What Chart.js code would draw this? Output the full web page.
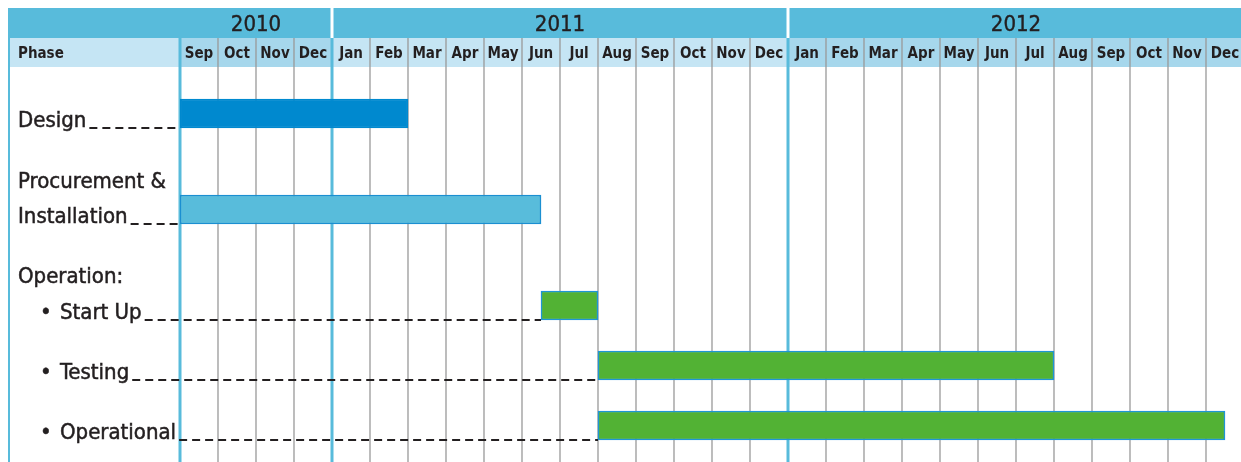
<!DOCTYPE html>
<html>
<head>
<meta charset="utf-8">
<title>Project Schedule</title>
<script src="https://cdn.jsdelivr.net/npm/chart.js@4/dist/chart.umd.min.js"></script>
<style>
  html, body { margin: 0; padding: 0; background: #fff; overflow: hidden; }
  #wrap { width: 1241px; height: 462px; overflow: hidden; }
</style>
</head>
<body>
<div id="wrap"><canvas id="gantt" width="1244" height="462"></canvas></div>
<script>
// Timeline: Sep 2010 .. Dec 2012
const years = ['2010', '2011', '2012'];
const monthsPerYear = [4, 12, 12];
const months = ['Sep', 'Oct', 'Nov', 'Dec',
    'Jan', 'Feb', 'Mar', 'Apr', 'May', 'Jun', 'Jul', 'Aug', 'Sep', 'Oct', 'Nov', 'Dec',
    'Jan', 'Feb', 'Mar', 'Apr', 'May', 'Jun', 'Jul', 'Aug', 'Sep', 'Oct', 'Nov', 'Dec'];

// Phases, start/end in months counted from 1 Sep 2010
const phaseLabels = [['Design'], ['Procurement &', 'Installation'], ['Start Up'], ['Testing'], ['Operational']];
const phaseStart = [0, 0, 9.5, 11, 11];
const phaseEnd = [6, 9.5, 11, 23, 27.5];
const subPhase = [false, false, true, true, true];
const groupTitle = 'Operation:';

// layout / style
const rowSlots = [0, 1.6, 3.2, 4.2, 5.2];
const barColors = ['#0089cf', '#58bcdb', '#52b234', '#52b234', '#52b234'];
const barBorders = ['#0089cf', '#1b8fd1', '#1f95d5', '#1f95d5', '#1f95d5'];
const FONT = '"DejaVu Sans Condensed", "Liberation Sans Narrow", sans-serif';
const TEXT = '#231f20';
const HEAD_DARK = '#58bbdb';
const HEAD_MID = '#a6d7ec';
const HEAD_LIGHT = '#c5e5f4';

// text with a thin outline so it looks a little heavier
function heavyText(ctx, str, tx, ty) {
    ctx.fillText(str, tx, ty);
    ctx.strokeText(str, tx, ty);
}

const ganttFrame = {
    id: 'ganttFrame',
    beforeDatasetsDraw(chart) {
        const ctx = chart.ctx;
        const x = chart.scales.x;
        const px = v => x.getPixelForValue(v);
        const bottom = chart.height;
        ctx.save();

        // year row
        ctx.fillStyle = HEAD_DARK;
        ctx.fillRect(8, 8, chart.width - 8, 30);

        // month row
        ctx.fillStyle = HEAD_LIGHT;
        ctx.fillRect(8, 38, px(0) - 8, 29);
        let m = 0;
        const yearEdges = [];
        years.forEach((yr, yi) => {
            const n = monthsPerYear[yi];
            ctx.fillStyle = yi % 2 === 0 ? HEAD_MID : HEAD_LIGHT;
            ctx.fillRect(px(m), 38, px(m + n) - px(m), 29);
            // year label
            ctx.fillStyle = TEXT;
            ctx.strokeStyle = TEXT;
            ctx.lineWidth = 0.4;
            ctx.font = '22px ' + FONT;
            ctx.textAlign = 'center';
            ctx.textBaseline = 'alphabetic';
            heavyText(ctx, yr, (px(m) + px(m + n)) / 2, 31);
            yearEdges.push(m);
            m += n;
        });

        // month grid lines
        ctx.strokeStyle = '#999999';
        ctx.lineWidth = 1.3;
        for (let i = 1; i < months.length; i++) {
            if (yearEdges.includes(i)) continue;
            ctx.beginPath();
            ctx.moveTo(px(i), 38);
            ctx.lineTo(px(i), bottom);
            ctx.stroke();
        }

        // year boundaries
        yearEdges.forEach(i => {
            ctx.strokeStyle = HEAD_DARK;
            ctx.lineWidth = 3;
            ctx.beginPath();
            ctx.moveTo(px(i), 38);
            ctx.lineTo(px(i), bottom);
            ctx.stroke();
            if (i > 0) {
                ctx.strokeStyle = '#ffffff';
                ctx.beginPath();
                ctx.moveTo(px(i), 8);
                ctx.lineTo(px(i), 38);
                ctx.stroke();
            }
        });

        // left frame line
        ctx.strokeStyle = HEAD_DARK;
        ctx.lineWidth = 2;
        ctx.beginPath();
        ctx.moveTo(9, 8);
        ctx.lineTo(9, bottom);
        ctx.stroke();

        // month labels
        ctx.fillStyle = TEXT;
        ctx.font = 'bold 15px ' + FONT;
        ctx.textAlign = 'center';
        months.forEach((mon, i) => {
            ctx.fillText(mon, (px(i) + px(i + 1)) / 2, 58);
        });
        ctx.textAlign = 'left';
        ctx.fillText('Phase', 18, 58);

        // phase labels with dashed leaders
        const y = chart.scales.y;
        ctx.font = '22px ' + FONT;
        phaseLabels.forEach((lines, i) => {
            const base = y.getPixelForValue(rowSlots[i]) + 14.5;
            const textX = subPhase[i] ? 60 : 18;
            ctx.fillStyle = TEXT;
            ctx.strokeStyle = TEXT;
            ctx.lineWidth = 0.5;
            ctx.textAlign = 'left';
            lines.forEach((line, li) => {
                heavyText(ctx, line, textX, base - 1 - (lines.length - 1 - li) * 35);
            });
            if (subPhase[i]) {
                heavyText(ctx, '\u2022', 40, base - 1);
            }
            if (subPhase[i] && !subPhase[i - 1]) {
                heavyText(ctx, groupTitle, 18, base - 37);
            }
            const endX = textX + ctx.measureText(lines[lines.length - 1]).width + 3;
            ctx.lineWidth = 2;
            ctx.setLineDash([8, 5]);
            ctx.beginPath();
            ctx.moveTo(endX, base);
            ctx.lineTo(px(phaseStart[i]), base);
            ctx.stroke();
            ctx.setLineDash([]);
        });

        ctx.restore();
    }
};

new Chart(document.getElementById('gantt'), {
    type: 'bar',
    data: {
        datasets: [{
            data: phaseStart.map((s, i) => ({ x: [s, phaseEnd[i]], y: rowSlots[i] })),
            backgroundColor: barColors,
            borderColor: barBorders,
            borderWidth: 1.5,
            borderSkipped: false,
            barThickness: 29
        }]
    },
    plugins: [ganttFrame],
    options: {
        indexAxis: 'y',
        responsive: false,
        animation: false,
        layout: { padding: { left: 180, top: 67, right: 0, bottom: 0 } },
        plugins: { legend: { display: false }, tooltip: { enabled: false } },
        scales: {
            x: { type: 'linear', min: 0, max: months.length, display: false },
            y: { type: 'linear', reverse: true, offset: false, min: -0.775, max: 5.808, display: false }
        }
    }
});
</script>
</body>
</html>
